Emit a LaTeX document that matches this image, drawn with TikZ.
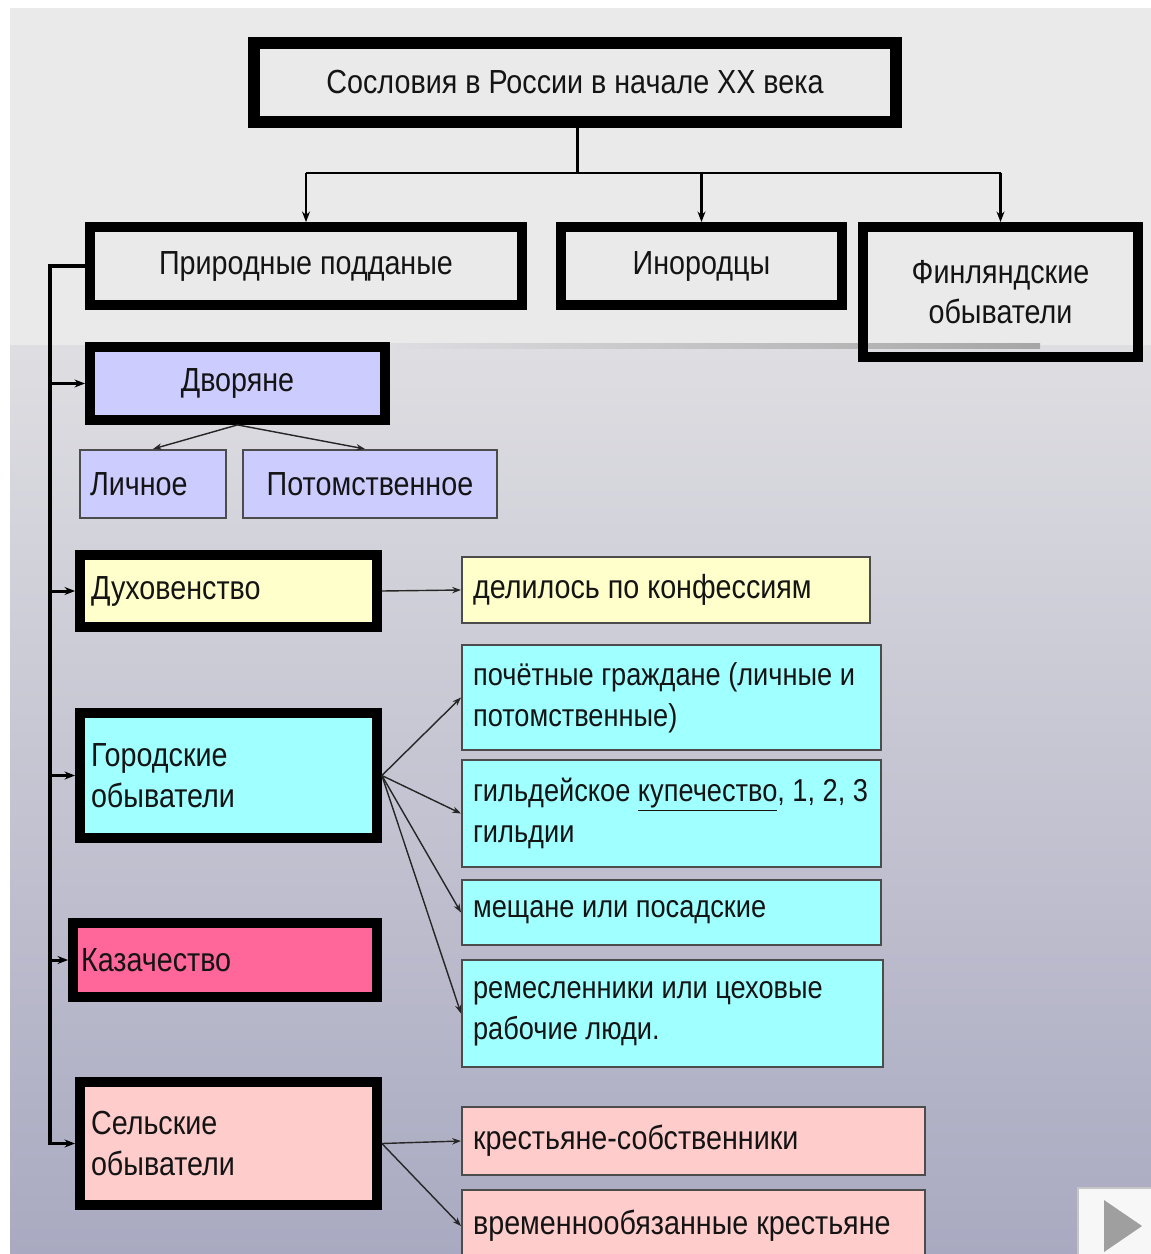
\documentclass[tikz,border=0pt]{standalone}
\usepackage{fontspec}
\setmainfont{Liberation Sans}[FakeStretch=0.86]
\usetikzlibrary{arrows.meta}

\definecolor{bgtop}{HTML}{EAEAEA}
\definecolor{bgmid}{HTML}{DEDEE2}
\definecolor{bgbot}{HTML}{A9A9C1}
\definecolor{lavender}{HTML}{CCCCFF}
\definecolor{lightyellow}{HTML}{FFFFCC}
\definecolor{lightcyan}{HTML}{A0FFFF}
\definecolor{hotpink}{HTML}{FF6699}
\definecolor{lightpink}{HTML}{FFCCCC}
\definecolor{ink}{HTML}{141414}

\tikzset{
  thickbox/.style={draw=black, line width=5.6pt, inner sep=0pt, text=ink,
    font=\fontsize{19}{23}\selectfont},
  thinbox/.style={draw=black!70, line width=1.2pt, inner sep=0pt, text=ink,
    font=\fontsize{18}{23.5}\selectfont},
  leftbox/.style={align=flush left, inner xsep=0.22cm},
  tip/.style={-{Stealth[length=6pt,width=4.5pt]}, line width=1.7pt},
  thintip/.style={-{Stealth[length=5pt,width=3.6pt]}, line width=0.8pt, draw=black!85}
}

\begin{document}
\begin{tikzpicture}[x=0.02cm, y=-0.02cm]
  \useasboundingbox (0,0) rectangle (1151,1254);
  \fill[white] (0,0) rectangle (1151,1254);
  \fill[bgtop] (10,8) rectangle (1151,345);
  \shade[top color=bgmid, bottom color=bgbot] (10,345) rectangle (1151,1254);
  \shade[left color=bgmid, right color=gray!70] (390,343) rectangle (1040,348);

  \node[thickbox, line width=6.6pt, minimum width=12.84cm, minimum height=1.58cm] (title) at (575,82.5) {Сословия в России в начале XX века};

  \node[thickbox, minimum width=8.64cm, minimum height=1.56cm] (pp) at (306,266) {Природные подданые};
  \node[thickbox, minimum width=5.62cm, minimum height=1.56cm] (inor) at (701.5,266) {Инородцы};
  \node[thickbox, minimum width=5.5cm, minimum height=2.6cm, align=center] (fin) at (1000.5,292) {Финляндские\\обыватели};

  \node[thickbox, fill=lavender, minimum width=5.9cm, minimum height=1.46cm] (dvor) at (237.5,383.5) {Дворяне};
  \node[thinbox, fill=lavender, font=\fontsize{19}{23}\selectfont, leftbox, inner xsep=0.2cm, text width=2.52cm, minimum height=1.36cm] (lich) at (153,484) {Личное};
  \node[thinbox, fill=lavender, font=\fontsize{19}{23}\selectfont, minimum width=5.08cm, minimum height=1.36cm] (potom) at (370,484) {Потомственное};

  \node[thickbox, fill=lightyellow, leftbox, text width=5.5cm, minimum height=1.44cm] (duh) at (228.5,591) {Духовенство};
  \node[thinbox, fill=lightyellow, font=\fontsize{19}{23}\selectfont, leftbox, text width=7.72cm, minimum height=1.32cm] (konf) at (666,590) {делилось по конфессиям};

  \node[thickbox, fill=lightcyan, leftbox, text width=5.5cm, minimum height=2.5cm] (gor) at (228.5,775.5) {Городские\\обыватели};
  \node[thinbox, fill=lightcyan, leftbox, text width=7.94cm, minimum height=2.1cm] (poch) at (671.5,697.5) {почётные граждане (личные и\\потомственные)};
  \node[thinbox, fill=lightcyan, leftbox, text width=7.94cm, minimum height=2.14cm] (gild) at (671.5,813.5) {\mbox{гильдейское \underline{купечество}, 1, 2, 3}\\гильдии};
  \node[thinbox, fill=lightcyan, leftbox, text width=7.94cm, minimum height=1.3cm] (mesh) at (671.5,912.5) {мещане или посадские};
  \node[thinbox, fill=lightcyan, leftbox, text width=7.98cm, minimum height=2.14cm] (rem) at (672.5,1013.5) {ремесленники или цеховые\\рабочие люди.};

  \node[thickbox, fill=hotpink, leftbox, inner xsep=0.16cm, text width=5.76cm, minimum height=1.48cm] (kaz) at (225,960) {Казачество};

  \node[thickbox, fill=lightpink, leftbox, text width=5.5cm, minimum height=2.46cm] (sel) at (228.5,1143.5) {Сельские\\обыватели};
  \node[thinbox, fill=lightpink, font=\fontsize{19}{23}\selectfont, leftbox, text width=8.82cm, minimum height=1.36cm] (kr1) at (693.5,1141) {крестьяне-собственники};
  \node[thinbox, fill=lightpink, font=\fontsize{19}{23}\selectfont, leftbox, text width=8.82cm, minimum height=1.44cm] (kr2) at (693.5,1226) {временнообязанные крестьяне};

  \coordinate (hub) at (577,173);
  \coordinate (busx) at (50,0);

  \draw[line width=1.7pt] (title.south -| hub) -- (hub);
  \draw[line width=1.7pt] (hub -| pp.north) -- (hub -| fin.north);
  \foreach \t in {pp,inor,fin}{
    \draw[tip] (hub -| \t.north) -- (\t.north);
  }

  \draw[tip, line width=2.2pt] (pp.west) -- (busx |- pp.west) -- (busx |- sel.west) -- (sel.west);
  \foreach \t in {dvor,duh,gor,kaz}{
    \draw[tip] (busx |- \t.west) -- (\t.west);
  }

  \draw[thintip] (dvor.south) -- (lich.north);
  \draw[thintip] (dvor.south) -- ([xshift=-0.1cm]potom.north);
  \draw[thintip] (duh.east) -- (konf.west);
  \foreach \t in {poch,gild,mesh,rem}{
    \draw[thintip] (gor.east) -- (\t.west);
  }
  \foreach \t in {kr1,kr2}{
    \draw[thintip] (sel.east) -- (\t.west);
  }

  \filldraw[fill=gray!6, draw=gray!45, line width=0.8pt] (1078,1188) rectangle (1160,1262);
  \fill[gray!75] (1104,1200) -- (1142,1226) -- (1104,1252) -- cycle;
\end{tikzpicture}
\end{document}
